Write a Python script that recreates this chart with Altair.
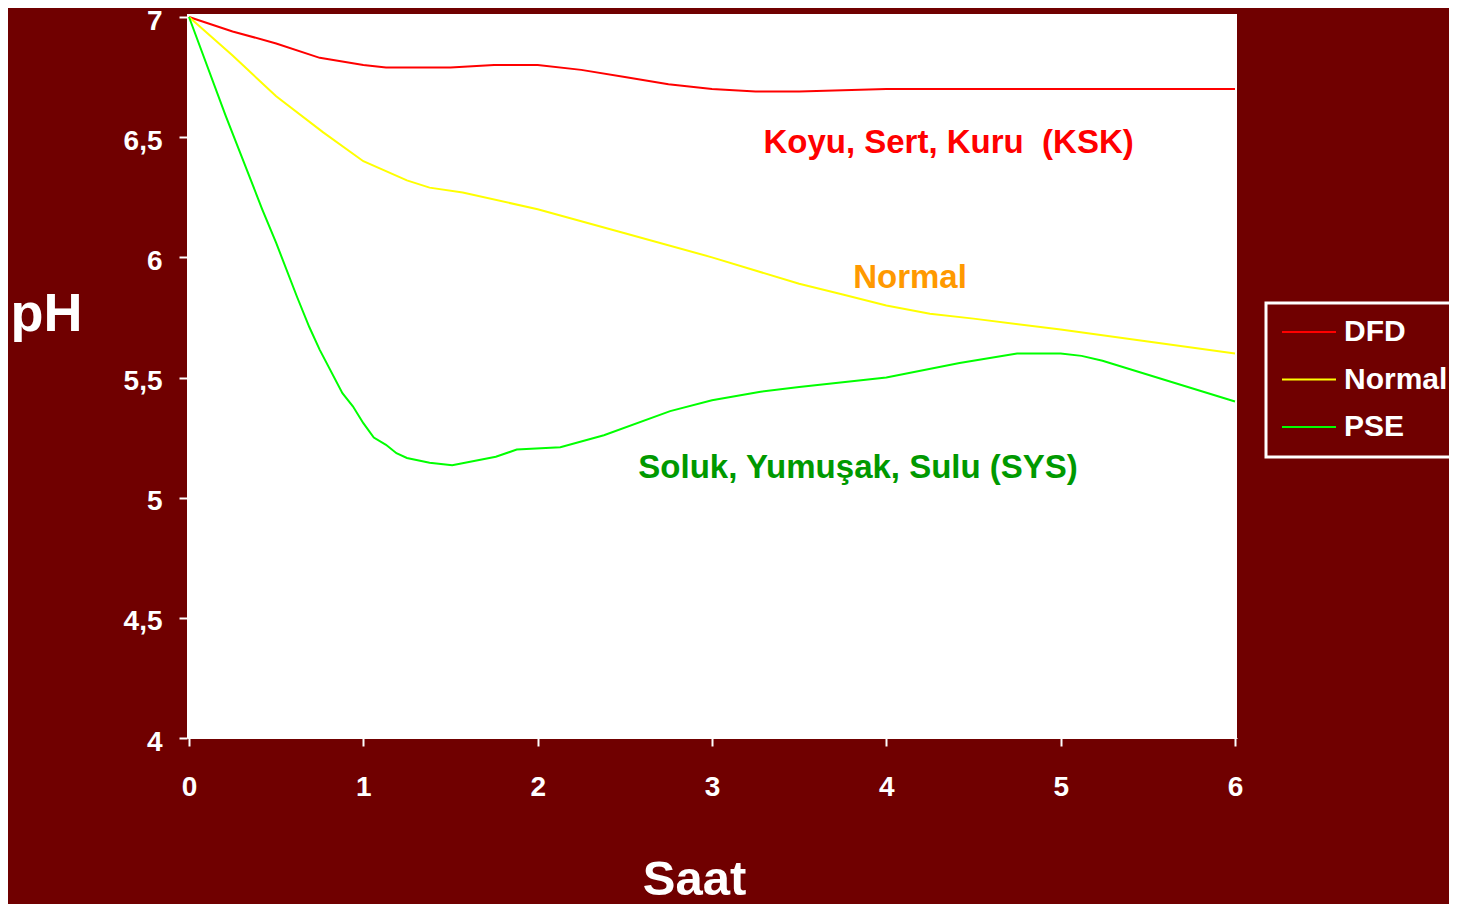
import altair as alt
import pandas as pd

# ---- data ----
dfd_x = [0, 0.25, 0.5, 0.75, 1.0, 1.13, 1.5, 1.75, 2.0, 2.25, 2.5, 2.75, 3.0, 3.25, 3.5, 4.0, 4.5, 5.0, 5.5, 6.0]
dfd_y = [7.0, 6.94, 6.89, 6.83, 6.80, 6.79, 6.79, 6.80, 6.80, 6.78, 6.75, 6.72, 6.70, 6.69, 6.69, 6.70, 6.70, 6.70, 6.70, 6.70]

nor_x = [0, 0.25, 0.5, 0.77, 1.0, 1.25, 1.38, 1.57, 2.0, 2.5, 3.0, 3.5, 3.75, 4.0, 4.25, 4.5, 5.0, 5.5, 6.0]
nor_y = [7.0, 6.84, 6.67, 6.52, 6.40, 6.32, 6.29, 6.27, 6.20, 6.10, 6.00, 5.89, 5.845, 5.80, 5.765, 5.745, 5.70, 5.65, 5.60]

pse_x = [0, 0.21, 0.42, 0.5, 0.62, 0.69, 0.75, 0.88, 0.94, 1.0, 1.06, 1.13, 1.19, 1.25, 1.38, 1.51,
         1.76, 1.88, 2.13, 2.38, 2.76, 3.0, 3.27, 3.5, 4.0, 4.42, 4.75, 5.0, 5.12, 5.24, 6.0]
pse_y = [7.0, 6.59, 6.20, 6.06, 5.835, 5.71, 5.615, 5.435, 5.38, 5.31, 5.25, 5.22, 5.185, 5.165, 5.145, 5.135,
         5.17, 5.20, 5.21, 5.26, 5.36, 5.405, 5.44, 5.46, 5.50, 5.56, 5.60, 5.60, 5.59, 5.57, 5.40]

series = ["DFD", "Normal", "PSE"]
series_colors = ["#ff0000", "#ffff00", "#00ff00"]

x_ticks = [0, 1, 2, 3, 4, 5, 6]
y_ticks = [4, 4.5, 5, 5.5, 6, 6.5, 7]

ann_text = ["Koyu, Sert, Kuru\u00a0 (KSK)", "Normal", "Soluk, Yumuşak, Sulu (SYS)"]
ann_x = [4.357, 4.136, 3.838]
ann_y = [6.434, 5.872, 5.082]
ann_color = ["#ff0000", "#ff9900", "#009900"]
ann_size = [33, 33, 33]

rows = []
for name, xs, ys in [("DFD", dfd_x, dfd_y), ("Normal", nor_x, nor_y), ("PSE", pse_x, pse_y)]:
    for i, (a, b) in enumerate(zip(xs, ys)):
        rows.append({"series": name, "t": a, "ph": b, "order": i})
df = pd.DataFrame(rows)
ann = pd.DataFrame({"text": ann_text, "t": ann_x, "ph": ann_y, "color": ann_color, "size": ann_size})

FONT = "Liberation Sans"

xscale = alt.Scale(domain=[-0.0115, 6.0115], nice=False, zero=False)
yscale = alt.Scale(domain=[4, 7.0125], nice=False, zero=False)

lines = alt.Chart(df).mark_line(strokeWidth=2, clip=True).encode(
    x=alt.X("t:Q", scale=xscale,
            axis=alt.Axis(values=x_ticks, title="Saat", titleFontSize=49, titleX=507, titleY=156,
                          titleAlign="center", titleBaseline="alphabetic", labelPadding=27, tickSize=8,
                          format="d")),
    y=alt.Y("ph:Q", scale=yscale,
            axis=alt.Axis(values=y_ticks, title="pH", titleFontSize=54, titleAngle=0, titleX=-141, titleY=316,
                          titleAlign="center", titleBaseline="alphabetic", labelPadding=17, tickSize=8,
                          labelOffset=4,
                          labelExpr="replace(format(datum.value, '~g'), '.', ',')")),
    color=alt.Color("series:N", scale=alt.Scale(domain=series, range=series_colors),
                    legend=alt.Legend(title=None, orient="none", legendX=1079, legendY=289,
                                      direction="vertical", symbolType="stroke", symbolSize=2916,
                                      symbolStrokeWidth=2, labelOffset=7, clipHeight=28, rowPadding=17.5,
                                      padding=15, strokeColor="white", fillColor="#700000",
                                      labelFontSize=30, labelFont=FONT, labelFontWeight="bold",
                                      labelColor="white")),
    order="order:Q",
)

texts = alt.Chart(ann).mark_text(font=FONT, fontWeight="bold", align="center", baseline="alphabetic").encode(
    x=alt.X("t:Q", scale=xscale),
    y=alt.Y("ph:Q", scale=yscale),
    text="text:N",
    color=alt.Color("color:N", scale=None),
    size=alt.Size("size:Q", scale=None),
)

chart = alt.layer(lines, texts).properties(
    width=1050, height=724,
    autosize=alt.AutoSizeParams(type="none"),
    padding={"left": 179, "top": 6, "right": 212, "bottom": 166},
    background="#700000",
).configure_view(
    fill="white", strokeWidth=0
).configure_axis(
    grid=False, labelColor="white", labelFont=FONT, labelFontWeight="bold", labelFontSize=28,
    tickColor="white", domainColor="white", titleColor="white", titleFont=FONT, titleFontWeight="bold",
    tickWidth=2,
).configure_legend(
    strokeWidth=3
)

chart.save("out.html", embed_options={"renderer": "svg", "actions": False})
